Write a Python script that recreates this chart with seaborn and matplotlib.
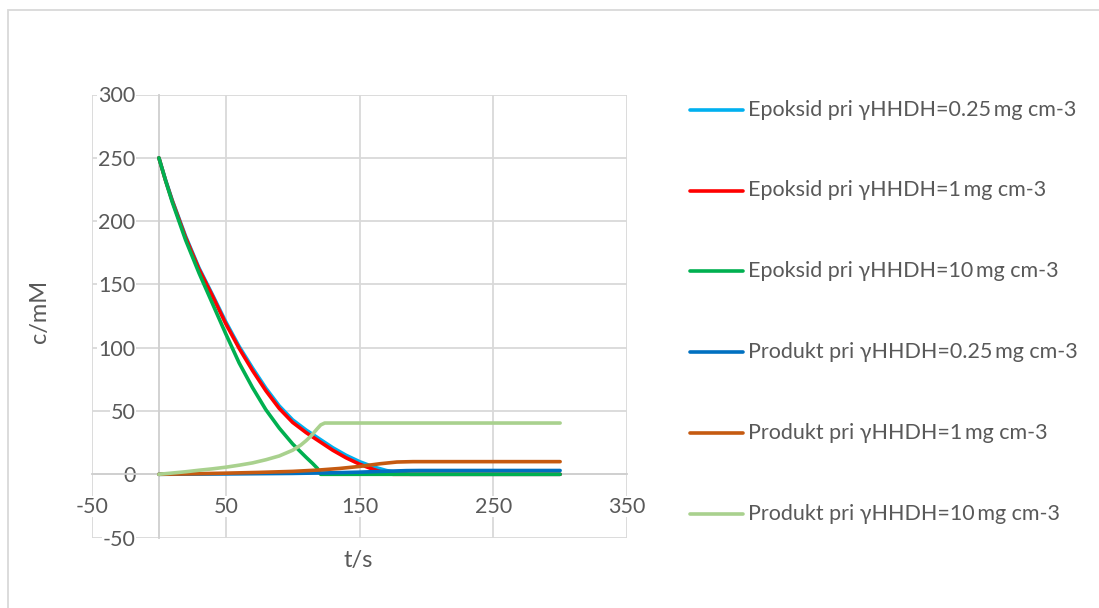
import pandas as pd
import seaborn as sns
from matplotlib import pyplot as plt
from matplotlib.lines import Line2D
from matplotlib.patches import Rectangle

# --- data ---
t_ep_025 = [0, 5, 10, 20, 30, 40, 50, 60, 70, 80, 90, 100, 110, 120, 130, 140, 150, 160, 170, 180, 188, 300]
c_ep_025 = [250, 232.5, 216.5, 188, 163, 142, 120.5, 101, 84, 68, 54, 43, 35, 28, 21, 15, 10, 6, 3, 1, 0, 0]

t_ep_1 = [0, 5, 10, 20, 30, 40, 50, 60, 70, 80, 90, 100, 110, 120, 130, 140, 150, 160, 168, 175, 300]
c_ep_1 = [250, 232, 216, 187, 162, 141, 119, 99.5, 82, 66, 52, 41, 33, 26, 19, 13, 8, 4, 1.3, 0, 0]

t_ep_10 = [0, 5, 10, 20, 30, 40, 50, 60, 70, 80, 90, 100, 110, 115, 118.5, 121, 300]
c_ep_10 = [250, 232, 215, 185, 159, 135, 111, 88, 68.5, 51, 36.5, 24, 13.5, 8.5, 4.7, 0, 0]

t_pr_025 = [0, 50, 100, 130, 150, 170, 185, 195, 300]
c_pr_025 = [0, 0.3, 0.7, 1.2, 1.7, 2.4, 2.9, 3, 3]

t_pr_1 = [0, 25, 50, 75, 100, 120, 135, 150, 165, 178, 190, 300]
c_pr_1 = [0, 0.4, 0.9, 1.5, 2.3, 3.4, 4.6, 6.2, 8.3, 9.7, 10, 10]

t_pr_10 = [0, 10, 20, 30, 40, 50, 60, 70, 80, 90, 100, 106, 110, 114, 118, 121, 124, 300]
c_pr_10 = [0, 1, 2, 3.2, 4.3, 5.6, 7.2, 9, 11.5, 14.5, 19, 23, 26.5, 30.5, 35.5, 39, 40.5, 40.5]

labels = [
    "Epoksid pri γHHDH=0.25\u2009mg cm-3",
    "Epoksid pri γHHDH=1\u2009mg cm-3",
    "Epoksid pri γHHDH=10\u2009mg cm-3",
    "Produkt pri γHHDH=0.25\u2009mg cm-3",
    "Produkt pri γHHDH=1\u2009mg cm-3",
    "Produkt pri γHHDH=10\u2009mg cm-3",
]
colors = ["#00B0F0", "#FF0000", "#00B050", "#0070C0", "#C55A11", "#A9D18E"]

series = [(t_ep_025, c_ep_025), (t_ep_1, c_ep_1), (t_ep_10, c_ep_10),
          (t_pr_025, c_pr_025), (t_pr_1, c_pr_1), (t_pr_10, c_pr_10)]
frames = []
for lab, (t, c) in zip(labels, series):
    frames.append(pd.DataFrame({"t": t, "c": c, "serija": lab}))
df = pd.concat(frames, ignore_index=True)

sns.set_style("white")
plt.rcParams["font.family"] = ["Lato", "DejaVu Sans"]
plt.rcParams["axes.unicode_minus"] = False
txt = "#595959"
grid = "#D9D9D9"

W, H = 1099, 608
fig = plt.figure(figsize=(W / 100, H / 100), dpi=100)
ax = fig.add_axes([92 / W, 1 - 537.6 / H, 535 / W, 443.1 / H])

sns.lineplot(data=df, x="t", y="c", hue="serija", hue_order=labels,
             palette=colors, sort=False, estimator=None, lw=2.6,
             legend=False, ax=ax)
for ln in ax.lines:
    ln.set_solid_capstyle("round")
    ln.set_solid_joinstyle("round")

ax.set_xlim(-50, 350)
ax.set_ylim(-50, 300)
ax.set_xticks([-50, 50, 150, 250, 350])
ax.set_yticks(range(-50, 301, 50))
ax.grid(True, color=grid, lw=1.3)
ax.set_axisbelow(True)
ax.set_xlabel("")
ax.set_ylabel("")
for s in ["top", "right"]:
    ax.spines[s].set_visible(False)
ax.spines["bottom"].set_position(("data", 0))
ax.spines["left"].set_position(("data", 0))
for s in ["bottom", "left"]:
    ax.spines[s].set_color("#CFCFCF")
    ax.spines[s].set_linewidth(1.3)
    ax.spines[s].set_zorder(0.6)
ax.tick_params(axis="x", length=0, pad=16, labelsize=15.5, labelcolor=txt)
ax.tick_params(axis="y", length=0, pad=17, labelsize=15.5, labelcolor=txt)
for lbl in ax.get_xticklabels() + ax.get_yticklabels():
    lbl.set_bbox(dict(facecolor="white", edgecolor="none", pad=0.5))

fig.text(40 / W, 1 - 311 / H, "c/mM", rotation=90, ha="center", va="center",
         fontsize=17, color=txt)
fig.text(358 / W, 1 - 560 / H, "t/s", ha="center", va="center",
         fontsize=17, color=txt)

# legend
ys = [110, 190.5, 271, 352, 433, 514]
for lab, col, y in zip(labels, colors, ys):
    fig.add_artist(Line2D([690 / W, 743 / W], [1 - y / H, 1 - y / H],
                          transform=fig.transFigure, color=col, lw=2.6,
                          solid_capstyle="round"))
    fig.text(748 / W, 1 - y / H, lab, ha="left", va="center",
             fontsize=15.5, color=txt)

# chart border
fig.add_artist(Rectangle((8 / W, -0.1), 1.2, 1.1 - 10 / H,
                         transform=fig.transFigure, fill=False,
                         edgecolor=grid, lw=1.3))

fig.savefig("out.png", dpi=100)
